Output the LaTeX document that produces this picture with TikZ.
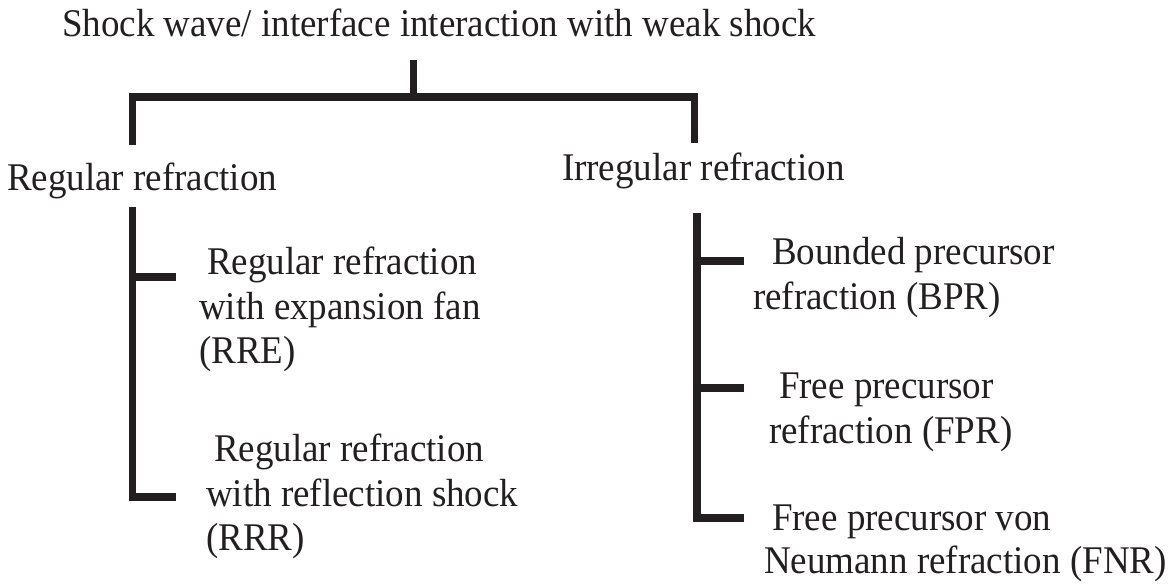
\documentclass[tikz,border=0pt]{standalone}
\usepackage{fontspec}
\usepackage{graphicx}
\setmainfont{Liberation Serif}
\definecolor{ink}{RGB}{35,31,32}
\newcommand\tallt[1]{\scalebox{1}[1.06]{#1}}
\begin{document}
\begin{tikzpicture}[x=1pt,y=-1pt,
  lbl/.style={anchor=base west,inner sep=0pt,outer sep=0pt,text=ink,font=\fontsize{37}{44}\selectfont},
  bar/.style={draw=ink,line width=7.5pt,line join=miter,line cap=butt}]
\useasboundingbox (0,0) rectangle (1174,583);
% texts
\node[lbl] (title) at (62,36.5) {\tallt{Shock wave/ interface interaction with weak shock}};
\node[lbl] (reg) at (7,190) {\tallt{Regular refraction}};
\node[lbl] (irr) at (562,180) {\tallt{Irregular refraction}};
\node[lbl] (rreA) at (207,274) {\tallt{Regular refraction}};
\node[lbl] (rreB) at (199,319) {\tallt{with expansion fan}};
\node[lbl] (rreC) at (199,363) {\tallt{(RRE)}};
\node[lbl] (rrrA) at (214,461) {\tallt{Regular refraction}};
\node[lbl] (rrrB) at (206,506) {\tallt{with reflection shock}};
\node[lbl] (rrrC) at (206,550) {\tallt{(RRR)}};
\node[lbl] (bprA) at (772,264) {\tallt{Bounded precursor}};
\node[lbl] (bprB) at (753,309) {\tallt{refraction (BPR)}};
\node[lbl] (fprA) at (779,398) {\tallt{Free precursor}};
\node[lbl] (fprB) at (769,443) {\tallt{refraction (FPR)}};
\node[lbl] (fnrA) at (772,530) {\tallt{Free precursor von}};
\node[lbl] (fnrB) at (764,573) {\tallt{Neumann refraction (FNR)}};
% bracket coordinates
\coordinate (stemtop) at (413.5,60);
\coordinate (stembot) at (413.5,97);
\coordinate (legL) at (132.5,145);
\coordinate (legR) at (694.5,143);
\coordinate (lTop) at (132.5,207);
\coordinate (lBot) at (132.5,497);
\coordinate (rTop) at (697,213);
\coordinate (rBot) at (697,518);
% main bracket
\draw[bar] (stemtop) -- (stembot);
\draw[bar] (legL) |- (stembot) -| (legR);
% left subtree
\draw[bar] (lTop) -- (lBot) -- (lBot -| 176,0);
\draw[bar] (132.5,277) -- (176,277);
% right subtree
\draw[bar] (rTop) -- (rBot) -- (rBot -| 744,0);
\draw[bar] (697,261) -- (744,261);
\draw[bar] (697,388) -- (744,388);
\end{tikzpicture}
\end{document}
